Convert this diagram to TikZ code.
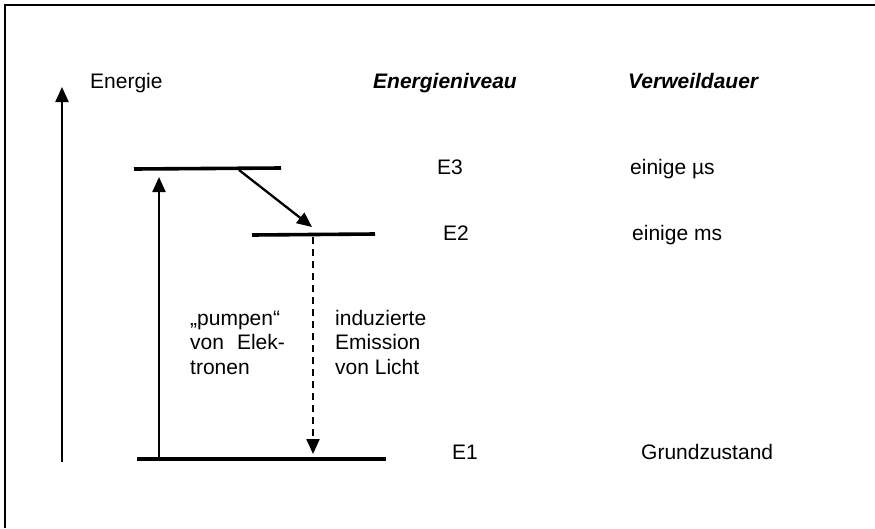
\documentclass[tikz,border=0pt]{standalone}
\usepackage{fontspec}
\setmainfont{Liberation Sans}
\usetikzlibrary{arrows.meta}
\begin{document}
\begin{tikzpicture}[x=1pt,y=-1pt,
  lbl/.style={anchor=base west,inner sep=0pt,font=\fontsize{21}{24}\selectfont},
  hdr/.style={lbl,font=\fontsize{21}{24}\selectfont\bfseries\itshape},
  level/.style={line width=3.6pt},
  arr/.style={line width=2.3pt,-{Triangle[length=15pt,width=13pt]}},
  darr/.style={arr,dash pattern=on 7pt off 5pt}]
\useasboundingbox (0,0) rectangle (875,528);
\coordinate (fbl) at (5,528); \coordinate (ftl) at (5,5); \coordinate (ftr) at (875,5);
\draw[line width=1.5pt] (fbl) -- (ftl) -- (ftr);
% axis
\coordinate (axb) at (62,462);
\coordinate (axt) at (62,87);
\draw[arr] (axb) -- (axt);
\node[lbl] (energie) at (90,88) {Energie};
\node[hdr] (hniv) at (373,88) {Energieniveau};
\node[hdr] (hver) at (628,88) {Verweildauer};
% levels
\coordinate (e3a) at (134,169); \coordinate (e3b) at (281,168);
\coordinate (e2a) at (252,235); \coordinate (e2b) at (375,234);
\coordinate (e1a) at (137,459); \coordinate (e1b) at (386,459);
\draw[level] (e3a) -- (e3b);
\draw[level] (e2a) -- (e2b);
\draw[level] (e1a) -- (e1b);
% transitions
\coordinate (pb) at (159,458); \coordinate (pt) at (159,177);
\draw[arr] (pb) -- (pt);
\coordinate (ds) at (239,170); \coordinate (de) at (312,227);
\draw[arr] (ds) -- (de);
\coordinate (es) at (313,237); \coordinate (ee) at (313,454);
\draw[darr] (es) -- (ee);
% labels
\node[lbl] (pump1) at (190,325) {„pumpen“};
\node[lbl] (pump2) at (190,349) {von\hspace{0.62em}Elek-};
\node[lbl] (pump3) at (190,374) {tronen};
\node[lbl] (ind1) at (335,325) {induzierte};
\node[lbl] (ind2) at (335,349) {Emission};
\node[lbl] (ind3) at (335,374) {von Licht};
\node[lbl] (l3) at (437,174) {E3};
\node[lbl] (l2) at (443,240) {E2};
\node[lbl] (l1) at (452,459) {E1};
\node[lbl] (v3) at (630,174) {einige µs};
\node[lbl] (v2) at (632,240) {einige ms};
\node[lbl] (v1) at (641,459) {Grundzustand};
\end{tikzpicture}
\end{document}
